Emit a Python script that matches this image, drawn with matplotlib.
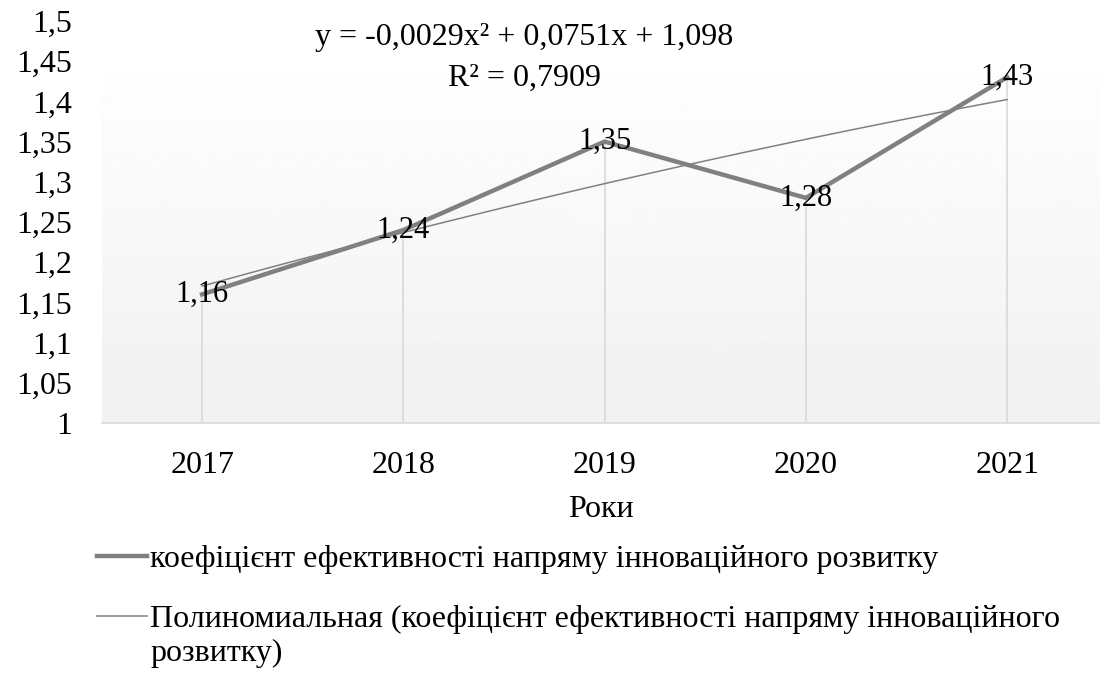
import numpy as np
import matplotlib
matplotlib.use("Agg")
import matplotlib.pyplot as plt
from matplotlib.ticker import FuncFormatter

plt.rcParams['font.family'] = ['Liberation Serif', 'DejaVu Serif']

years = ['2017', '2018', '2019', '2020', '2021']
values = [1.16, 1.24, 1.35, 1.28, 1.43]
labels = ['1,16', '1,24', '1,35', '1,28', '1,43']
y_ticks = [1.0, 1.05, 1.1, 1.15, 1.2, 1.25, 1.3, 1.35, 1.4, 1.45, 1.5]

series_name = 'коефіцієнт ефективності напряму інноваційного розвитку'
trend_name = 'Полиномиальная (коефіцієнт ефективності напряму інноваційного'
trend_name2 = 'розвитку)'
eq_text = 'y = -0,0029x² + 0,0751x + 1,098\nR² = 0,7909'

W, H = 1100, 673
fig = plt.figure(figsize=(11, 6.73), dpi=100)
# plot area in pixels: left 101.5, right edge of figure, bottom 423, top 21
ax = fig.add_axes([101.5 / W, 1 - 423 / H, (W - 101.5) / W, 402 / H])

x = np.arange(1, len(years) + 1)

# gradient fill of the plot area (starts a bit below the top of the axis)
grad = np.linspace(0.995, 0.945, 256).reshape(-1, 1)
ax.imshow(grad, extent=[0, 1, 0, 350 / 402], transform=ax.transAxes, cmap='gray',
          vmin=0, vmax=1, aspect='auto', zorder=0)

# trendline (2nd order polynomial fitted on the data)
coef = np.polyfit(x, values, 2)
xs = np.linspace(1, 5, 100)
ax.plot(xs, np.polyval(coef, xs), color='#808080', lw=1.1, zorder=3,
        label=trend_name)

# drop lines
ax.vlines(x, 1.0, values, color='#d9d9d9', lw=1.2, zorder=1)

ax.plot(x, values, color='#808080', lw=3.2, zorder=4, solid_joinstyle='miter',
        label=series_name)

for xi, v, t in zip(x, values, labels):
    ax.text(xi, v, t, ha='center', va='center', fontsize=22, zorder=5)

ax.set_xlim(0.5, 0.5 + (W - 101.5) / 201.25)
ax.set_ylim(1.0, 1.5)
ax.set_xticks(x)
ax.set_xticklabels(years, fontsize=23)
ax.set_yticks(y_ticks)
ax.yaxis.set_major_formatter(FuncFormatter(lambda v, p: ('%g' % round(v, 2)).replace('.', ',')))
ax.tick_params(axis='y', labelsize=23, length=0, pad=21)
ax.tick_params(axis='x', length=0, pad=20)
for s in ['top', 'right', 'left']:
    ax.spines[s].set_visible(False)
ax.spines['bottom'].set_color('#d9d9d9')
ax.spines['bottom'].set_linewidth(1.2)
ax.spines['bottom'].set_zorder(2)

ax.set_xlabel('Роки', fontsize=23, labelpad=11)

fig.text(524 / W, 1 - 58 / H, eq_text, ha='center', va='center', fontsize=23,
         linespacing=1.52)

h, l = ax.get_legend_handles_labels()
fig.legend(h[::-1], l[::-1], loc='upper left', bbox_to_anchor=(97 / W, 1 - 545 / H),
           frameon=False, fontsize=23, handlelength=1.56, handletextpad=0.1,
           labelspacing=0.94, borderaxespad=0, borderpad=0)
fig.text(150 / W, 1 - 653 / H, trend_name2, ha='left', va='center', fontsize=23)

fig.savefig('out.png', dpi=100)
